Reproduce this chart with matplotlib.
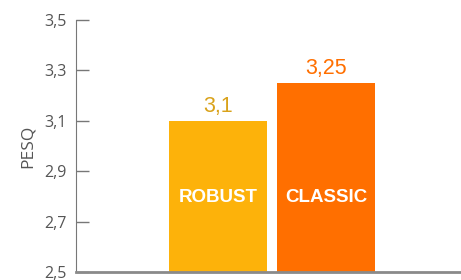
import matplotlib
matplotlib.use("Agg")
import matplotlib.pyplot as plt

categories = ["ROBUST", "CLASSIC"]
values = [3.1, 3.25]
value_labels = ["3,1", "3,25"]
bar_colors = ["#FDB20A", "#FF6F00"]
label_colors = ["#D9A21A", "#FF6F00"]
yticks = [2.5, 2.7, 2.9, 3.1, 3.3, 3.5]
ytick_labels = ["2,5", "2,7", "2,9", "3,1", "3,3", "3,5"]

fig = plt.figure(figsize=(4.61, 2.80), dpi=100)
ax = fig.add_axes([76 / 461, 8 / 280, 385 / 461, 252 / 280])

x = [0, 1]
bars = ax.bar(x, [v - 2.5 for v in values], bottom=2.5, width=0.907,
              color=bar_colors, zorder=2)

for xi, v, lab, c, cat in zip(x, values, value_labels, label_colors, categories):
    ax.text(xi, v + 0.015, lab, ha="center", va="bottom", color=c,
            fontsize=15.5, family="Liberation Sans")
    ax.text(xi, 2.795, cat, ha="center", va="center", color="white",
            fontsize=13.5, fontweight="bold", family="Liberation Sans")

ax.set_xlim(-1.315, 2.25)
ax.set_ylim(2.5, 3.5)
ax.set_xticks([])
ax.set_yticks(yticks)
ax.set_yticklabels(ytick_labels, family="Open Sans", fontsize=11.5, color="#555555")
ax.tick_params(axis="y", direction="in", length=9, width=1, color="#777777", pad=7)

ax.spines["top"].set_visible(False)
ax.spines["right"].set_visible(False)
ax.spines["left"].set_color("#777777")
ax.spines["bottom"].set_color("#8a8a8a")
ax.spines["bottom"].set_linewidth(2)
ax.spines["bottom"].set_zorder(3)

ax.set_ylabel("PESQ", family="Open Sans", fontsize=12.5, color="#555555", labelpad=6)

fig.savefig("out.png", dpi=100)
